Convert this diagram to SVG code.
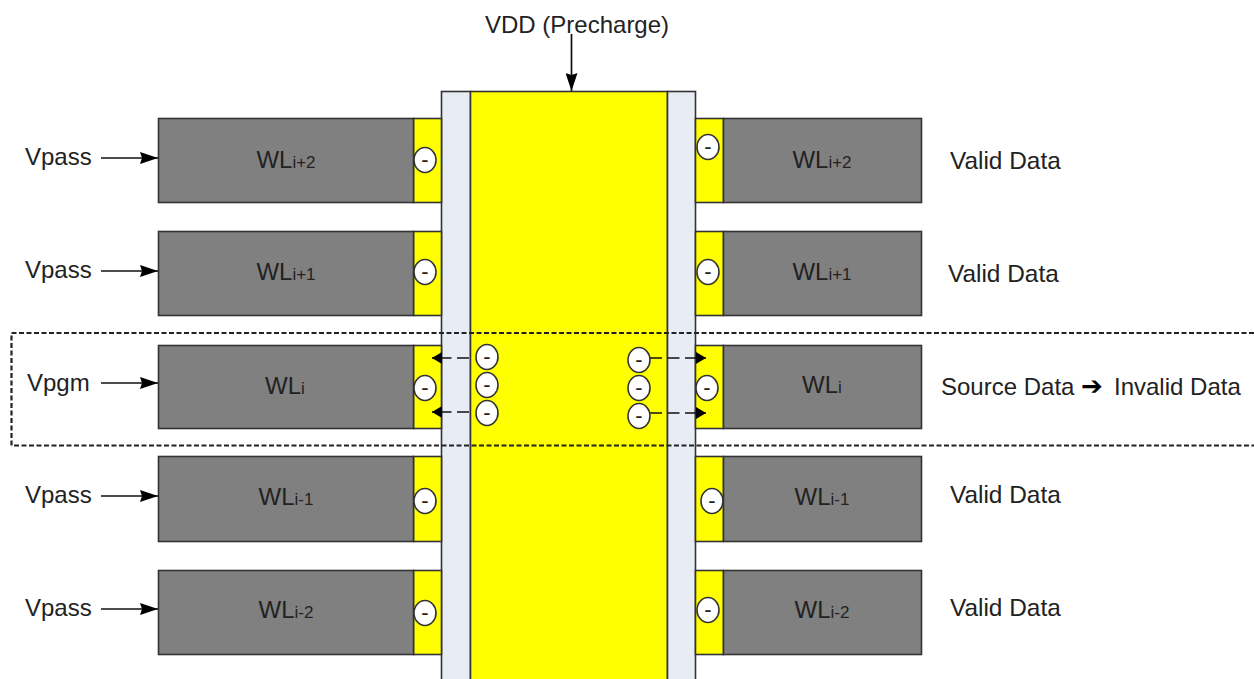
<svg xmlns="http://www.w3.org/2000/svg" width="1254" height="679" viewBox="0 0 1254 679">
<defs>
<marker id="a" markerUnits="userSpaceOnUse" markerWidth="18" markerHeight="12" refX="18" refY="6" orient="auto"><path d="M0 0L18 6L0 12L2 6Z" fill="#000"/></marker>
<marker id="b" markerUnits="userSpaceOnUse" markerWidth="10" markerHeight="12" refX="10" refY="6" orient="auto"><path d="M0 0L10 6L0 12Z" fill="#000"/></marker>
<ellipse id="e" cx="0" cy="0" rx="11" ry="12.5" fill="#fff" stroke="#333" stroke-width="1.6"/>
</defs>
<style>
text{font-family:"Liberation Sans",Arial,sans-serif;fill:#222;font-size:24px}
.wl{fill:#808080;stroke:#333;stroke-width:1.6}
.y{fill:#ff0;stroke:#333;stroke-width:1.6}
.b{fill:#e8ecf5;stroke:#333;stroke-width:1.6}
.m{text-anchor:middle;font-size:24px}
.s{font-size:17px}
.dash{font-size:22px;text-anchor:middle}
.c{fill:none;stroke:#111;stroke-width:1.7}
.d{stroke-dasharray:12 5.500}
.box{fill:none;stroke:#222;stroke-width:2.2;stroke-dasharray:5 2.500}
.v{font-size:24.400px}
</style>
<rect width="1254" height="679" fill="#fff"/>
<g id="channel">
<rect class="b" x="441.500" y="91.500" width="29" height="590"/>
<rect class="y" x="470.500" y="91.500" width="197" height="590"/>
<rect class="b" x="667.500" y="91.500" width="28" height="590"/>
</g>
<g id="wl-left-i2"><rect class="y" x="413.500" y="118.500" width="28" height="84"/><rect class="wl" x="158.500" y="118.500" width="255" height="84"/><text class="m" x="286" y="168">WL<tspan class="s">i+2</tspan></text><use href="#e" x="425" y="160"/><text class="dash" x="425" y="167">-</text></g>
<g id="wl-left-i1"><rect class="y" x="413.500" y="231.500" width="28" height="84"/><rect class="wl" x="158.500" y="231.500" width="255" height="84"/><text class="m" x="286" y="280">WL<tspan class="s">i+1</tspan></text><use href="#e" x="425" y="272"/><text class="dash" x="425" y="279">-</text></g>
<g id="wl-left-i"><rect class="y" x="413.500" y="345.500" width="28" height="83"/><rect class="wl" x="158.500" y="345.500" width="255" height="83"/><text class="m" x="285" y="394">WL<tspan class="s">i</tspan></text><use href="#e" x="425" y="388"/><text class="dash" x="425" y="395">-</text></g>
<g id="wl-left-im1"><rect class="y" x="413.500" y="456.500" width="28" height="85"/><rect class="wl" x="158.500" y="456.500" width="255" height="85"/><text class="m" x="286" y="505">WL<tspan class="s">i-1</tspan></text><use href="#e" x="425" y="501"/><text class="dash" x="425" y="508">-</text></g>
<g id="wl-left-im2"><rect class="y" x="413.500" y="570.500" width="28" height="84"/><rect class="wl" x="158.500" y="570.500" width="255" height="84"/><text class="m" x="286" y="618">WL<tspan class="s">i-2</tspan></text><use href="#e" x="425" y="613"/><text class="dash" x="425" y="620">-</text></g>
<g id="wl-right-i2"><rect class="y" x="695.500" y="118.500" width="28" height="84"/><rect class="wl" x="723.500" y="118.500" width="198" height="84"/><text class="m" x="822" y="168">WL<tspan class="s">i+2</tspan></text><use href="#e" x="708" y="147"/><text class="dash" x="708" y="154">-</text></g>
<g id="wl-right-i1"><rect class="y" x="695.500" y="231.500" width="28" height="84"/><rect class="wl" x="723.500" y="231.500" width="198" height="84"/><text class="m" x="822" y="280">WL<tspan class="s">i+1</tspan></text><use href="#e" x="708" y="272"/><text class="dash" x="708" y="279">-</text></g>
<g id="wl-right-i"><rect class="y" x="695.500" y="345.500" width="28" height="83"/><rect class="wl" x="723.500" y="345.500" width="198" height="83"/><text class="m" x="822" y="393">WL<tspan class="s">i</tspan></text><use href="#e" x="707" y="388"/><text class="dash" x="707" y="395">-</text></g>
<g id="wl-right-im1"><rect class="y" x="695.500" y="456.500" width="28" height="85"/><rect class="wl" x="723.500" y="456.500" width="198" height="85"/><text class="m" x="822" y="505">WL<tspan class="s">i-1</tspan></text><use href="#e" x="712" y="501"/><text class="dash" x="712" y="508">-</text></g>
<g id="wl-right-im2"><rect class="y" x="695.500" y="570.500" width="28" height="84"/><rect class="wl" x="723.500" y="570.500" width="198" height="84"/><text class="m" x="822" y="618">WL<tspan class="s">i-2</tspan></text><use href="#e" x="708" y="610"/><text class="dash" x="708" y="617">-</text></g>
<g id="connectors">
<path class="c" d="M571.500 34V91" marker-end="url(#a)"/>
<path class="c" d="M101 158H158" marker-end="url(#a)"/>
<path class="c" d="M101 271H158" marker-end="url(#a)"/>
<path class="c" d="M101 383H158" marker-end="url(#a)"/>
<path class="c" d="M101 496H158" marker-end="url(#a)"/>
<path class="c" d="M101 609H158" marker-end="url(#a)"/>
<path class="c d" d="M469 358H432" marker-end="url(#b)"/>
<path class="c d" d="M469 412H432" marker-end="url(#b)"/>
<path class="c d" d="M650 358H706" marker-end="url(#b)"/>
<path class="c d" d="M650 413H706" marker-end="url(#b)"/>
</g>
<g id="electrons-left"><use href="#e" x="487" y="357"/><text class="dash" x="487" y="364">-</text><use href="#e" x="487" y="385"/><text class="dash" x="487" y="392">-</text><use href="#e" x="487" y="413"/><text class="dash" x="487" y="420">-</text></g>
<g id="electrons-right"><use href="#e" x="639" y="360"/><text class="dash" x="639" y="367">-</text><use href="#e" x="639" y="388"/><text class="dash" x="639" y="395">-</text><use href="#e" x="639" y="416"/><text class="dash" x="639" y="423">-</text></g>
<path id="selected-box" class="box" d="M1254 333H11.500V445.500H1254"/>
<g id="labels">
<text x="485" y="33">VDD (Precharge)</text>
<text x="25" y="165">Vpass</text>
<text x="25" y="278">Vpass</text>
<text x="27" y="391">Vpgm</text>
<text x="25" y="503">Vpass</text>
<text x="25" y="616">Vpass</text>
<text class="v" x="950" y="169">Valid Data</text>
<text class="v" x="948" y="282">Valid Data</text>
<text x="941" y="395">Source Data <tspan x="1081" style="font-family:'DejaVu Sans';font-size:26px" fill="#000">➔</tspan> <tspan x="1114">Invalid Data</tspan></text>
<text class="v" x="950" y="503">Valid Data</text>
<text class="v" x="950" y="616">Valid Data</text>
</g>
</svg>
